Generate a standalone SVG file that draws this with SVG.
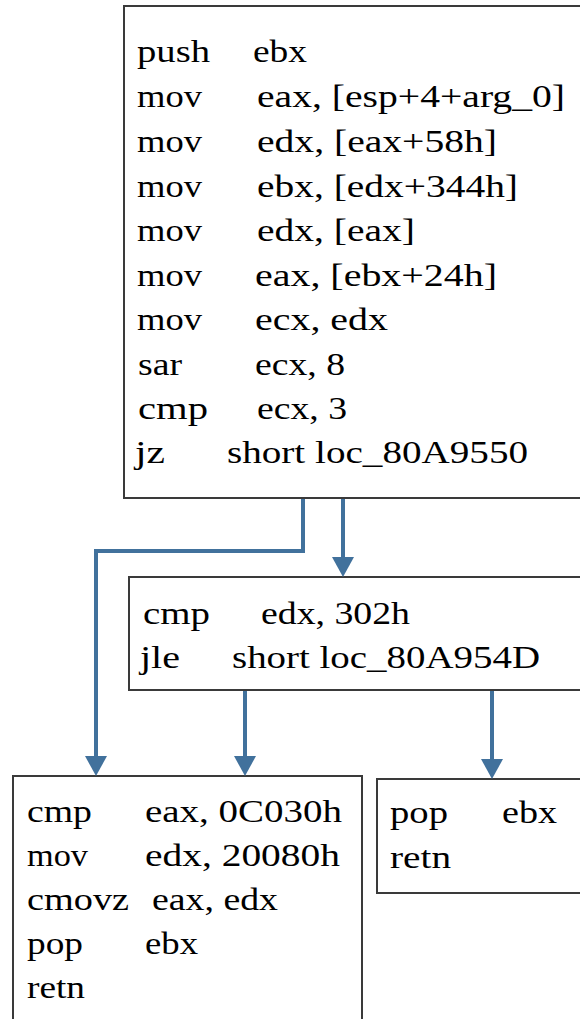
<svg xmlns="http://www.w3.org/2000/svg" width="580" height="1019" viewBox="0 0 580 1019">
<style>
.box{fill:#ffffff;stroke:#3a3a3a;stroke-width:2}
.t{font-family:"Liberation Serif","Times New Roman",serif;font-size:32px;fill:#000000}
.c{fill:none;stroke:#41719c;stroke-width:4}
</style>
<defs>
<marker id="ah" markerUnits="userSpaceOnUse" markerWidth="22" markerHeight="22" viewBox="0 0 20 22" refX="8" refY="11" orient="auto">
<path d="M0,0 L20,11 L0,22 z" fill="#41719c"/>
</marker>
</defs>
<rect width="580" height="1019" fill="#ffffff"/>
<g id="block1">
<rect class="box" x="124" y="6" width="470" height="492"/>
<text class="t" x="137" y="62" textLength="73" lengthAdjust="spacingAndGlyphs">push</text>
<text class="t" x="253" y="62" textLength="54" lengthAdjust="spacingAndGlyphs">ebx</text>
<text class="t" x="137" y="107" textLength="65" lengthAdjust="spacingAndGlyphs">mov</text>
<text class="t" x="257" y="107" textLength="308" lengthAdjust="spacingAndGlyphs">eax, [esp+4+arg_0]</text>
<text class="t" x="137" y="152" textLength="65" lengthAdjust="spacingAndGlyphs">mov</text>
<text class="t" x="257" y="152" textLength="240" lengthAdjust="spacingAndGlyphs">edx, [eax+58h]</text>
<text class="t" x="137" y="197" textLength="65" lengthAdjust="spacingAndGlyphs">mov</text>
<text class="t" x="257" y="197" textLength="261" lengthAdjust="spacingAndGlyphs">ebx, [edx+344h]</text>
<text class="t" x="137" y="241" textLength="65" lengthAdjust="spacingAndGlyphs">mov</text>
<text class="t" x="257" y="241" textLength="158" lengthAdjust="spacingAndGlyphs">edx, [eax]</text>
<text class="t" x="137" y="286" textLength="65" lengthAdjust="spacingAndGlyphs">mov</text>
<text class="t" x="255" y="286" textLength="242" lengthAdjust="spacingAndGlyphs">eax, [ebx+24h]</text>
<text class="t" x="137" y="330" textLength="65" lengthAdjust="spacingAndGlyphs">mov</text>
<text class="t" x="255" y="330" textLength="133" lengthAdjust="spacingAndGlyphs">ecx, edx</text>
<text class="t" x="138" y="375" textLength="44" lengthAdjust="spacingAndGlyphs">sar</text>
<text class="t" x="255" y="375" textLength="90" lengthAdjust="spacingAndGlyphs">ecx, 8</text>
<text class="t" x="138" y="419" textLength="70" lengthAdjust="spacingAndGlyphs">cmp</text>
<text class="t" x="257" y="419" textLength="90" lengthAdjust="spacingAndGlyphs">ecx, 3</text>
<text class="t" x="135" y="463" textLength="30" lengthAdjust="spacingAndGlyphs">jz</text>
<text class="t" x="227" y="463" textLength="301" lengthAdjust="spacingAndGlyphs">short loc_80A9550</text>
</g>
<g id="block2">
<rect class="box" x="129" y="577" width="470" height="113"/>
<text class="t" x="143" y="624" textLength="67" lengthAdjust="spacingAndGlyphs">cmp</text>
<text class="t" x="261" y="624" textLength="149" lengthAdjust="spacingAndGlyphs">edx, 302h</text>
<text class="t" x="140" y="668" textLength="40" lengthAdjust="spacingAndGlyphs">jle</text>
<text class="t" x="232" y="668" textLength="308" lengthAdjust="spacingAndGlyphs">short loc_80A954D</text>
</g>
<g id="block3">
<rect class="box" x="13" y="776" width="349" height="260"/>
<text class="t" x="27" y="822" textLength="65" lengthAdjust="spacingAndGlyphs">cmp</text>
<text class="t" x="145" y="822" textLength="197" lengthAdjust="spacingAndGlyphs">eax, 0C030h</text>
<text class="t" x="27" y="866" textLength="61" lengthAdjust="spacingAndGlyphs">mov</text>
<text class="t" x="145" y="866" textLength="195" lengthAdjust="spacingAndGlyphs">edx, 20080h</text>
<text class="t" x="27" y="910" textLength="102" lengthAdjust="spacingAndGlyphs">cmovz</text>
<text class="t" x="152" y="910" textLength="126" lengthAdjust="spacingAndGlyphs">eax, edx</text>
<text class="t" x="27" y="954" textLength="56" lengthAdjust="spacingAndGlyphs">pop</text>
<text class="t" x="145" y="954" textLength="53" lengthAdjust="spacingAndGlyphs">ebx</text>
<text class="t" x="27" y="998" textLength="58" lengthAdjust="spacingAndGlyphs">retn</text>
</g>
<g id="block4">
<rect class="box" x="377" y="779" width="220" height="114"/>
<text class="t" x="390" y="823" textLength="58" lengthAdjust="spacingAndGlyphs">pop</text>
<text class="t" x="502" y="823" textLength="55" lengthAdjust="spacingAndGlyphs">ebx</text>
<text class="t" x="390" y="868" textLength="61" lengthAdjust="spacingAndGlyphs">retn</text>
</g>
<g id="connectors">
<path class="c" d="M343,499 V565" marker-end="url(#ah)"/>
<path class="c" d="M303,499 V551 H96 V764" marker-end="url(#ah)"/>
<path class="c" d="M245,691 V764" marker-end="url(#ah)"/>
<path class="c" d="M492,691 V767" marker-end="url(#ah)"/>
</g>
</svg>
